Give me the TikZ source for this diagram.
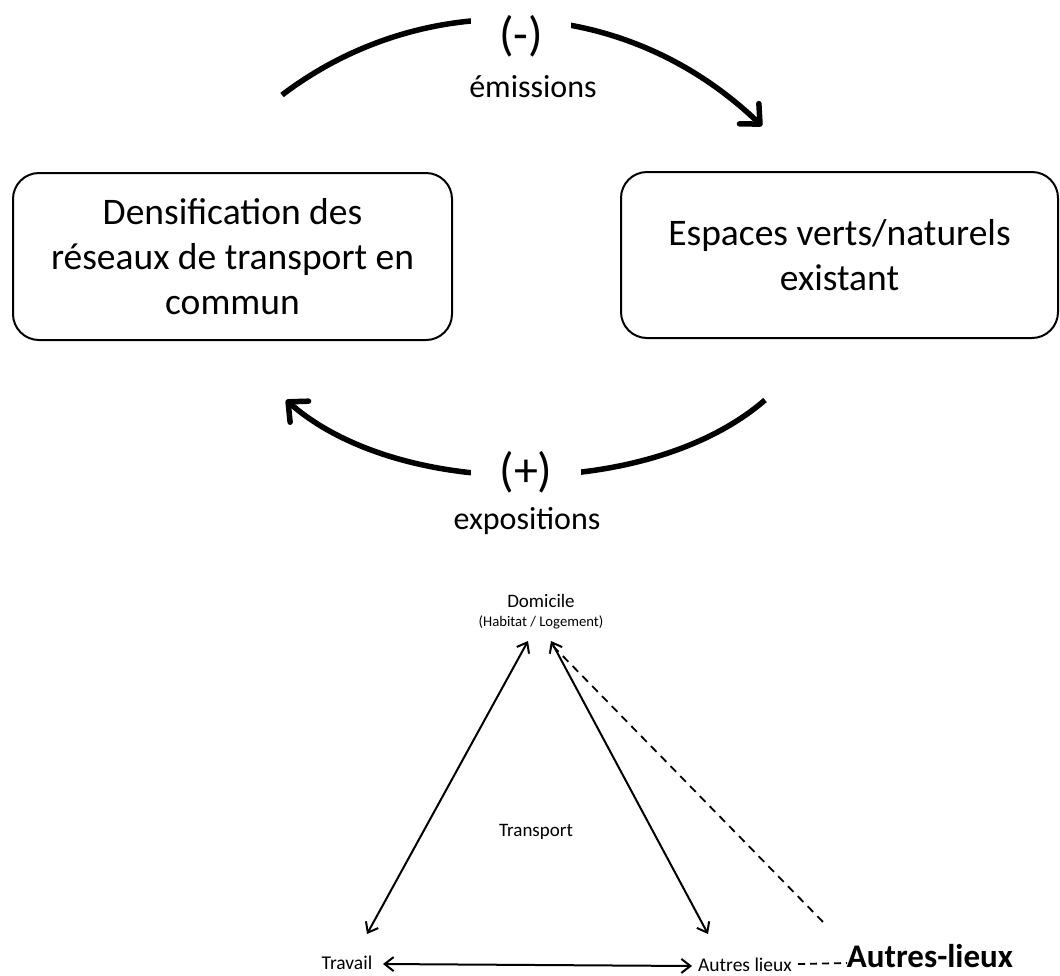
\documentclass[tikz,border=0pt]{standalone}
\usepackage{fontspec}
\setmainfont{Carlito}
\usetikzlibrary{arrows.meta}
\begin{document}
\begin{tikzpicture}[x=1pt,y=-1pt,
  box/.style={draw,line width=2pt,rounded corners=26pt,align=center,font=\fontsize{37.5}{45}\selectfont,inner sep=0pt},
  bigarc/.style={line width=5.5pt,-{Straight Barb[length=15pt,width=28pt,line width=5.5pt,round]}},
  thin/.style={line width=2pt,{Straight Barb[length=9pt,width=14pt,line width=2pt]}-{Straight Barb[length=9pt,width=14pt,line width=2pt]}},
  dashline/.style={line width=1.8pt,dash pattern=on 8pt off 6pt},
  lbl/.style={inner sep=0pt}]
\useasboundingbox (0,0) rectangle (1060,975);
% boxes
\node[box,minimum width=439pt,minimum height=167pt] (A) at (232.5,256.5) {Densification des\\réseaux de transport en\\commun};
\node[box,minimum width=437pt,minimum height=166pt] (B) at (839.5,255) {Espaces verts/naturels\\existant};
% top arc
\coordinate (t1) at (282,95);
\coordinate (t2) at (762,126);
\draw[bigarc] (t1) .. controls (420,-10) and (620,-10) .. (t2);
\node[lbl,fill=white,minimum width=100pt,minimum height=50pt] (m) at (521,36) {\fontsize{48}{48}\selectfont(-)};
\node[lbl] (em) at (533,87) {\fontsize{32}{32}\selectfont émissions};
% bottom arc
\coordinate (b1) at (765,400);
\coordinate (b2) at (286,400);
\draw[bigarc] (b1) .. controls (650,500) and (400,500) .. (b2);
\node[lbl,fill=white,minimum width=110pt,minimum height=50pt] (p) at (526,472) {\fontsize{48}{48}\selectfont(+)};
\node[lbl] (ex) at (527,521) {\fontsize{32}{32}\selectfont expositions};
% bottom triangle
\node[lbl] (dom) at (541,601) {\fontsize{19}{19}\selectfont Domicile};
\node[lbl] (hab) at (541,622) {\fontsize{14.7}{14.7}\selectfont(Habitat / Logement)};
\node[lbl] (tr) at (536,832) {\fontsize{19}{19}\selectfont Transport};
\node[lbl] (trav) at (347,963) {\fontsize{19.5}{19.5}\selectfont Travail};
\node[lbl] (al) at (745,965) {\fontsize{19.5}{19.5}\selectfont Autres lieux};
\node[lbl] (al2) at (930,956) {\fontsize{33}{33}\selectfont\bfseries Autres-lieux};
\coordinate (dl) at (528,641);
\coordinate (dr) at (551,641);
\coordinate (ds) at (553,646);
\coordinate (tv) at (367,934);
\coordinate (av) at (708,934);
\coordinate (de) at (823,922);
\coordinate (h1) at (383,964);
\coordinate (h2) at (692,966);
\coordinate (k1) at (798,964);
\coordinate (k2) at (847,963);
\draw[thin] (tv) -- (dl);
\draw[thin] (av) -- (dr);
\draw[thin] (h1) -- (h2);
\draw[dashline] (ds) -- (de);
\draw[dashline,dash pattern=on 7pt off 5pt] (k1) -- (k2);
\end{tikzpicture}
\end{document}
